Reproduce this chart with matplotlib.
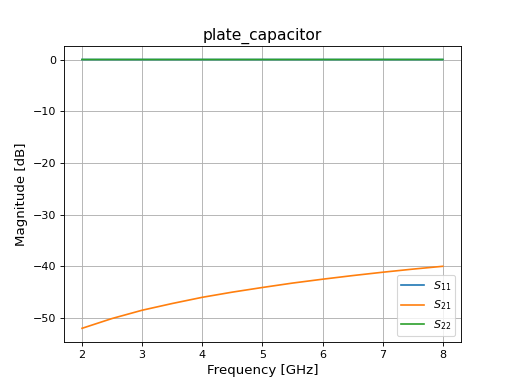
import numpy as np
import matplotlib
matplotlib.use('Agg')
import matplotlib.pyplot as plt

freq = [2.0, 2.5, 3.0, 3.5, 4.0, 4.5, 5.0, 5.5, 6.0, 6.5, 7.0, 7.5, 8.0]
s11 = [-0.0001, -0.0002, -0.0003, -0.0004, -0.0005, -0.0006, -0.0007,
       -0.0009, -0.0010, -0.0012, -0.0014, -0.0016, -0.0018]
s21 = [-52.0, -50.1, -48.5, -47.2, -46.0, -45.0, -44.1, -43.25, -42.5,
       -41.8, -41.15, -40.55, -40.0]
s22 = s11

fig, ax = plt.subplots(figsize=(6.4, 4.8), dpi=80)
ax.plot(freq, s11, label='$S_{11}$')
ax.plot(freq, s21, label='$S_{21}$')
ax.plot(freq, s22, label='$S_{22}$')
ax.set_title('plate_capacitor', fontsize=14)
ax.set_xlabel('Frequency [GHz]', fontsize=12)
ax.set_ylabel('Magnitude [dB]', fontsize=12)
ax.grid(True)
ax.legend(loc='lower right')

plt.savefig('out.png', dpi=80)
